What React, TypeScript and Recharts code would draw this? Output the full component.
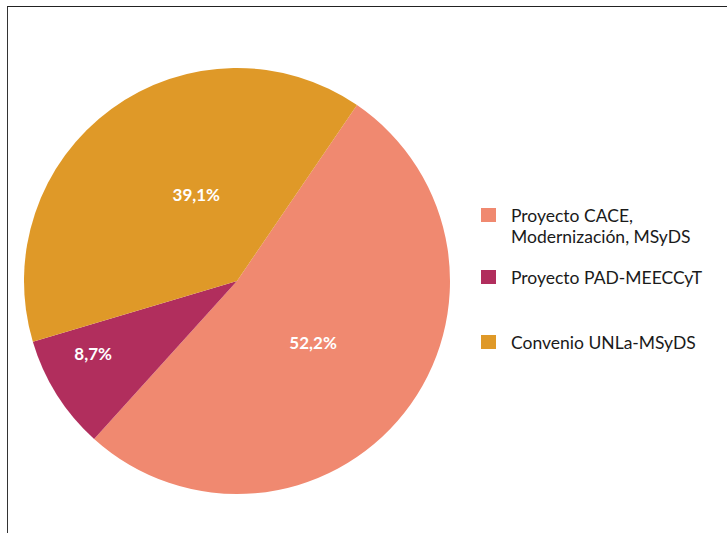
import React from "react";
import { PieChart, Pie, Cell, Legend } from "recharts";

const categories = [
  "Proyecto CACE, Modernización, MSyDS",
  "Proyecto PAD-MEECCyT",
  "Convenio UNLa-MSyDS",
];
const legendLines = [
  ["Proyecto CACE,", "Modernización, MSyDS"],
  ["Proyecto PAD-MEECCyT"],
  ["Convenio UNLa-MSyDS"],
];
const counts = [12, 2, 9];
const percentLabels = ["52,2%", "8,7%", "39,1%"];
const colors = ["#F08970", "#B12E5D", "#DF9928"];

const data = categories.map((name, i) => ({ name, value: counts[i], label: percentLabels[i] }));

// label placement tweaks (fraction of outer radius, angle offset in degrees)
const labelRadiusRatio = [0.458, 0.756, 0.45];
const labelAngleOffset = [-0.5, -5.5, -11];

const RAD = Math.PI / 180;

const renderLabel = (props: any) => {
  const { cx, cy, midAngle, outerRadius, index } = props;
  const r = outerRadius * labelRadiusRatio[index];
  const a = (midAngle + labelAngleOffset[index]) * RAD;
  const x = cx + r * Math.cos(a);
  const y = cy - r * Math.sin(a);
  return (
    <text
      x={x}
      y={y}
      fill="#ffffff"
      textAnchor="middle"
      dominantBaseline="central"
      fontFamily="Lato, 'Open Sans', sans-serif"
      fontWeight={700}
      fontSize={17}
    >
      {data[index].label}
    </text>
  );
};

const itemGaps = [0, 20, 44];

const renderLegend = () => (
  <div style={{ fontFamily: "Lato, 'Open Sans', sans-serif", fontSize: 17.5, color: "#1a1a1a" }}>
    {legendLines.map((lines, i) => (
      <div key={i} style={{ display: "flex", alignItems: "flex-start", marginTop: itemGaps[i] }}>
        <div style={{ width: 15, height: 14, marginTop: 3, background: colors[i], flexShrink: 0 }} />
        <div style={{ marginLeft: 15, lineHeight: "21px", whiteSpace: "nowrap" }}>
          {lines.map((l, j) => (
            <div key={j}>{l}</div>
          ))}
        </div>
      </div>
    ))}
  </div>
);

export default function App() {
  return (
    <div style={{ position: "absolute", left: 0, top: 0, width: 727, height: 533, background: "#fff", overflow: "hidden" }}>
      <div
        style={{
          position: "absolute",
          left: 7,
          top: 6,
          width: 740,
          height: 540,
          borderTop: "1px solid #222",
          borderLeft: "1.5px solid #333",
        }}
      />
      <div style={{ position: "absolute", left: 0, top: 0 }}>
        <PieChart width={727} height={533} margin={{ top: 0, right: 0, bottom: 0, left: 0 }}>
          <Pie
            data={data}
            dataKey="value"
            nameKey="name"
            cx={237}
            cy={281}
            outerRadius={213}
            startAngle={55.7}
            endAngle={55.7 - 360}
            stroke="none"
            label={renderLabel}
            labelLine={false}
            isAnimationActive={false}
          >
            {data.map((d, i) => (
              <Cell key={d.name} fill={colors[i]} />
            ))}
          </Pie>
          <Legend
            layout="vertical"
            align="right"
            verticalAlign="top"
            content={renderLegend}
            wrapperStyle={{ left: 481, top: 205, right: "auto", width: 245 }}
          />
        </PieChart>
      </div>
    </div>
  );
}
